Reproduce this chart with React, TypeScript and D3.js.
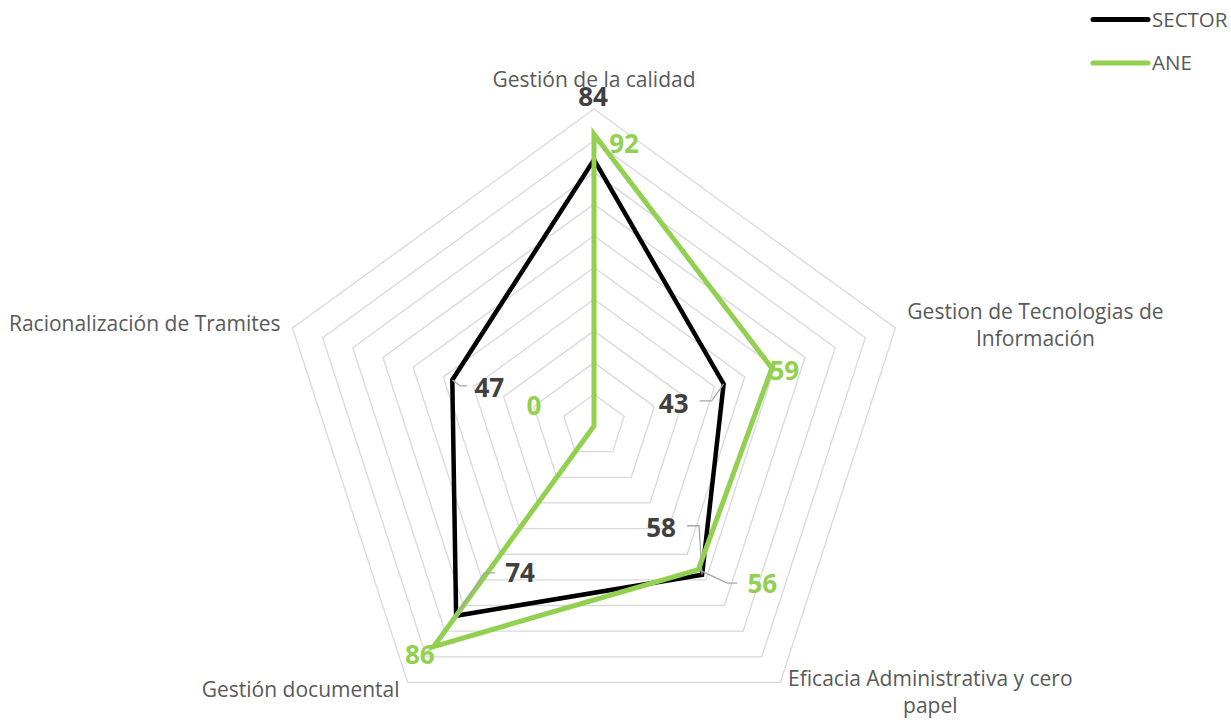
import React from "react";
import * as d3 from "d3";

const categories = [
  ["Gestión de la calidad"],
  ["Gestion de Tecnologias de", "Información"],
  ["Eficacia Administrativa y cero", "papel"],
  ["Gestión documental"],
  ["Racionalización de Tramites"],
];
const sectorValues = [84, 43, 58, 74, 47];
const aneValues = [92, 59, 56, 86, 0];
const ringTicks = [10, 20, 30, 40, 50, 60, 70, 80, 90, 100];
const seriesNames = ["SECTOR", "ANE"];

// label placement offsets (relative to the data point): [dx, dyBaseline]
const sectorLabelOff = [[-1, -54], [-50, 29], [-41, -38], [64, -34], [37, 17]];
const aneLabelOff = [[30, 18.5], [12.5, 12], [64, 23], [-14, 17.5], [-60, -11]];
// leader lines: [[elbowDx, elbowDy], [endDx, endDy]] relative to point (null = none)
const sectorLeader: (number[][] | null)[] = [
  null,
  [[-12, 17], [-24, 17]],
  [[-3, -49], [-15, -49]],
  [[28, -43], [39, -43]],
  [[8, 6], [15, 6]],
];
const aneLeader: (number[][] | null)[] = [
  null,
  null,
  [[29, 13.5], [39, 13.5]],
  null,
  null,
];
// category label placement relative to outer vertex: [dx, dy, anchor]
const catOff: [number, number, string][] = [
  [0, -22, "middle"],
  [140, -9, "middle"],
  [150, 3.5, "middle"],
  [-107, 14.5, "middle"],
  [-12, 3, "end"],
];

const W = 1231;
const H = 720;
const cx = 594;
const cy = 426;
const R = 317;
const BLACK = "#000000";
const GREEN = "#92D050";
const FONT = "'Open Sans', 'Liberation Sans', sans-serif";

export default function App() {
  const r = d3.scaleLinear().domain([0, 100]).range([0, R]);
  const n = categories.length;
  const angle = (i: number) => ((-90 + (360 / n) * i) * Math.PI) / 180;
  const pt = (i: number, v: number): [number, number] => [
    cx + r(v) * Math.cos(angle(i)),
    cy + r(v) * Math.sin(angle(i)),
  ];
  const line = d3.line<[number, number]>().curve(d3.curveLinearClosed);
  const ringPath = (v: number) => line(d3.range(n).map((i) => pt(i, v))) || "";

  const series = [
    { name: seriesNames[0], values: sectorValues, color: BLACK, width: 4.5, off: sectorLabelOff, leader: sectorLeader, labelColor: "#404040" },
    { name: seriesNames[1], values: aneValues, color: GREEN, width: 5, off: aneLabelOff, leader: aneLeader, labelColor: GREEN },
  ];

  return (
    <svg width={W} height={H} style={{ position: "absolute", left: 0, top: 0, background: "#fff" }} fontFamily={FONT}>
      {ringTicks.map((t) => (
        <path key={t} d={ringPath(t)} fill="none" stroke="#d9d9d9" strokeWidth={1.3} />
      ))}
      {series.map((s) => (
        <path key={s.name} d={line(s.values.map((v, i) => pt(i, v))) || ""} fill="none" stroke={s.color} strokeWidth={s.width} strokeLinejoin="miter" />
      ))}
      {series.map((s) =>
        s.values.map((v, i) => {
          const [px, py] = pt(i, v);
          const ld = s.leader[i];
          return ld ? (
            <polyline
              key={s.name + "l" + i}
              points={`${px},${py} ${px + ld[0][0]},${py + ld[0][1]} ${px + ld[1][0]},${py + ld[1][1]}`}
              fill="none"
              stroke="#a6a6a6"
              strokeWidth={1.3}
            />
          ) : null;
        })
      )}
      {series.map((s) =>
        s.values.map((v, i) => {
          const [px, py] = pt(i, v);
          return (
            <text key={s.name + "t" + i} x={px + s.off[i][0]} y={py + s.off[i][1]} textAnchor="middle" fontSize={26} fontWeight={700} fill={s.labelColor}>
              {v}
            </text>
          );
        })
      )}
      {categories.map((lines, i) => {
        const [vx, vy] = pt(i, 100);
        const [dx, dy, anchor] = catOff[i];
        return (
          <text key={"c" + i} x={vx + dx} y={vy + dy} textAnchor={anchor} fontSize={21} fill="#595959">
            {lines.map((l, j) => (
              <tspan key={j} x={vx + dx} dy={j === 0 ? 0 : 27}>
                {l}
              </tspan>
            ))}
          </text>
        );
      })}
      {series.map((s, k) => (
        <g key={"lg" + k} transform={`translate(1093, ${19.5 + k * 43.5})`}>
          <line x1={0} x2={55} y1={0} y2={0} stroke={s.color} strokeWidth={5} strokeLinecap="round" />
          <text x={59} y={7} fontSize={20.5} fill="#595959">
            {s.name}
          </text>
        </g>
      ))}
    </svg>
  );
}
